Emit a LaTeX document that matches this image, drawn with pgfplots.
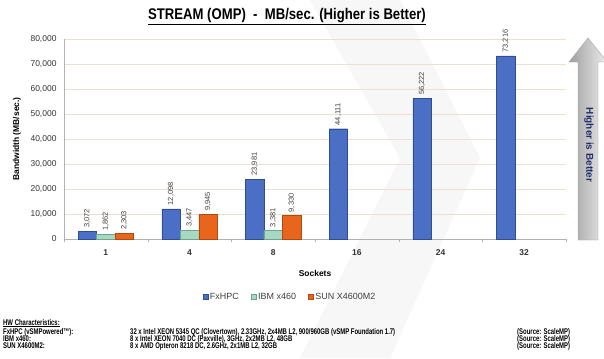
\documentclass[border=0pt]{standalone}
\usepackage{pgfplots}
\pgfplotsset{compat=1.18}
\usepackage{fontspec}
\setmainfont{Liberation Sans}
\newfontfamily\narrow[FakeStretch=0.85]{Liberation Sans}
\newfontfamily\xnarrow[FakeStretch=0.72]{Liberation Sans}
\definecolor{fxblue}{HTML}{4A6FC4}
\definecolor{fxblueD}{HTML}{2F4E91}
\definecolor{ibmgreen}{HTML}{A8D8C2}
\definecolor{ibmgreenD}{HTML}{6FA58C}
\definecolor{sunorange}{HTML}{E8651E}
\definecolor{sunorangeD}{HTML}{B24A10}
\definecolor{navy}{HTML}{1F2F6E}
\begin{document}
\begin{tikzpicture}[x=1bp,y=1bp]
\useasboundingbox (0,0) rectangle (604,358);
\fill[white] (0,0) rectangle (604,358);
\fill[gray!6] (310,358) -- (400,358) -- (480,200) -- (390,0) -- (300,0) -- (400,200) -- cycle;
\shade[left color=gray!75, right color=gray!15, draw=gray!70] (578,118) -- (578,296) -- (569,296) -- (588,320) -- (607,296) -- (598,296) -- (598,118) -- cycle;
\node[rotate=-90, font=\bfseries\fontsize{10}{10}\selectfont, text=navy] at (589,213) {Higher is Better};
\node[font=\narrow\bfseries\fontsize{15.5}{15.5}\selectfont] at (287,341) {\underline{STREAM (OMP)\ \ -\ \ MB/sec. (Higher is Better)}};
\begin{axis}[at={(64bp,119bp)}, anchor=south west, scale only axis,
  width=502bp, height=200bp,
  xmin=-0.5, xmax=5.5, ymin=0, ymax=80000,
  ybar, bar width=18.5bp,
  xtick={0,...,5}, xticklabels={1,4,8,16,24,32},
  minor xtick={-0.5,0.5,...,5.5},
  ytick={0,10000,...,80000},
  scaled y ticks=false,
  /pgf/number format/1000 sep={,},
  /pgf/number format/assume math mode=true,
  ticklabel style={font=\fontsize{8.5}{9}\selectfont, text=black!80},
  yticklabel style={xshift=-4bp},
  xticklabel style={font=\bfseries\fontsize{8.5}{9}\selectfont, yshift=-7bp},
  major tick length=0pt, minor tick length=3bp,
  minor tick style={draw=gray!60},
  axis x line*=bottom, axis y line*=left,
  axis line style={draw=gray!60, -},
  ymajorgrids, grid style={draw=brown!25, line width=0.6pt},
  xlabel={Sockets}, ylabel={Bandwidth (MB/sec.)},
  xlabel style={font=\bfseries\fontsize{8.5}{9}\selectfont, at={(axis description cs:0.5,-0.17)}, anchor=center},
  ylabel style={font=\bfseries\fontsize{8.5}{9}\selectfont, at={(axis description cs:-0.094,0.5)}, anchor=center},
  nodes near coords,
  every node near coord/.append style={rotate=90, anchor=west, font=\fontsize{7.5}{8}\selectfont, text=black!75},
  legend style={at={(axis description cs:0.45,-0.29)}, anchor=center, legend columns=3, draw=none, fill=none,
    font=\fontsize{9}{9}\selectfont, text=black!75, /tikz/every even column/.append style={column sep=10bp}},
  legend image code/.code={\draw[#1] (0bp,-2.5bp) rectangle (5bp,2.5bp);},
]
\addplot[fill=fxblue, draw=fxblueD, bar shift=-18.5bp] coordinates {(0,3072) (1,12098) (2,23981) (3,44111) (4,56222) (5,73216)};
\addplot[fill=ibmgreen, draw=ibmgreenD, bar shift=0bp] coordinates {(0,1862) (1,3447) (2,3381)};
\addplot[fill=sunorange, draw=sunorangeD, bar shift=18.5bp] coordinates {(0,2303) (1,9945) (2,9330)};
\legend{FxHPC, IBM x460, SUN X4600M2}
\end{axis}
\begin{scope}[font=\xnarrow\bfseries\fontsize{8.3}{8.3}\selectfont]
\node[anchor=base west, inner sep=0] at (3,33) {\underline{HW Characteristics:}};
\node[anchor=base west, inner sep=0] at (3,24) {FxHPC (vSMPowered\texttrademark):};
\node[anchor=base west, inner sep=0] at (3,17) {IBM x460:};
\node[anchor=base west, inner sep=0] at (3,10) {SUN X4600M2:};
\node[anchor=base west, inner sep=0] at (130,24) {32 x Intel XEON 5345 QC (Clovertown), 2.33GHz, 2x4MB L2, 900/960GB (vSMP Foundation 1.7)};
\node[anchor=base west, inner sep=0] at (130,17) {8 x Intel XEON 7040 DC (Paxville), 3GHz, 2x2MB L2, 48GB};
\node[anchor=base west, inner sep=0] at (130,10) {8 x AMD Opteron 8218 DC, 2.6GHz, 2x1MB L2, 32GB};
\node[anchor=base west, inner sep=0] at (517,24) {(Source: ScaleMP)};
\node[anchor=base west, inner sep=0] at (517,17) {(Source: ScaleMP)};
\node[anchor=base west, inner sep=0] at (517,10) {(Source: ScaleMP)};
\end{scope}
\end{tikzpicture}
\end{document}
